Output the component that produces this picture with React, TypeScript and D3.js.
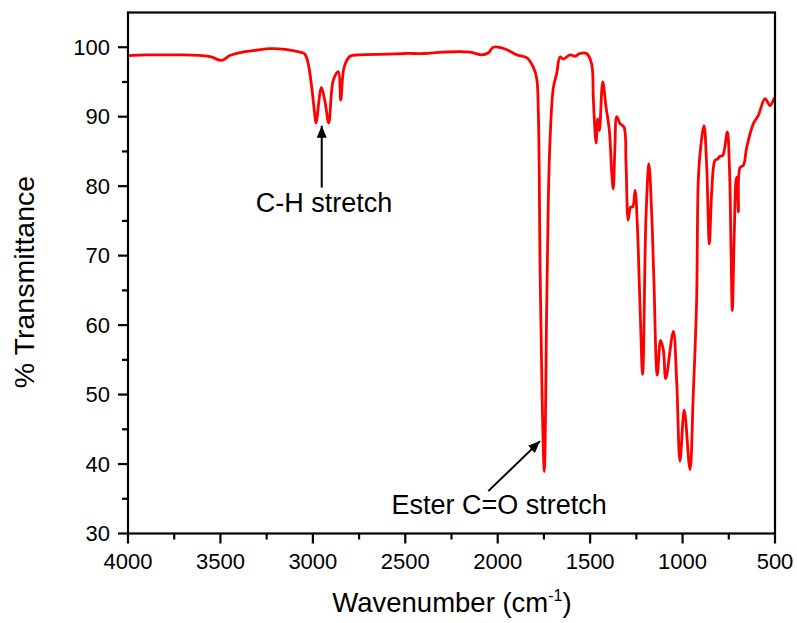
import React from "react";
import * as d3 from "d3";

const wavenumber = [
  4000, 3900, 3800, 3700, 3600, 3550, 3493, 3450, 3400, 3300, 3232, 3150, 3070, 3043, 3025, 3006, 2992,
  2983, 2954, 2934, 2914, 2890, 2862, 2849, 2831, 2799, 2750, 2600, 2500, 2400, 2294, 2150, 2087, 2050,
  2024, 1979, 1940, 1897, 1843, 1807, 1789, 1780, 1771, 1760, 1748, 1735, 1726, 1717, 1699, 1681, 1663,
  1645, 1609, 1582, 1555, 1519, 1492, 1483, 1474, 1468, 1459, 1450, 1432, 1414, 1396, 1383, 1375, 1366,
  1356, 1338, 1317, 1306, 1294, 1281, 1270, 1257, 1245, 1230, 1216, 1198, 1182, 1167, 1155, 1137, 1119,
  1104, 1091, 1050, 1032, 1014, 991, 960, 942, 924, 915, 902, 884, 870, 855, 842, 825, 812, 798, 783, 758,
  747, 738, 731, 720, 711, 706, 698, 689, 671, 653, 617, 590, 554, 527, 505, 500,
];
const transmittance = [
  98.8, 98.9, 98.9, 98.9, 98.8, 98.6, 98.1, 98.8, 99.2, 99.6, 99.8, 99.7, 99.3, 99.0, 97.6, 94.2, 90.9,
  89.1, 94.2, 92.1, 89.1, 95.2, 96.5, 92.4, 97.1, 98.7, 98.9, 99.0, 99.1, 99.1, 99.3, 99.3, 98.9, 99.2,
  100.0, 99.9, 99.5, 98.9, 98.5, 97.1, 95.5, 90.4, 68.9, 50.0, 38.9, 62.6, 78.4, 86.6, 94.2, 96.2, 98.6,
  98.3, 98.9, 98.7, 99.1, 99.1, 97.6, 92.8, 88.0, 86.2, 89.7, 88.0, 95.0, 91.4, 88.0, 81.8, 79.6, 85.6,
  90.0, 89.0, 88.5, 83.2, 75.1, 77.0, 77.0, 79.4, 74.6, 62.6, 52.9, 75.5, 83.2, 76.0, 66.4, 52.8, 57.8,
  56.4, 52.3, 59.1, 52.0, 40.4, 47.8, 39.2, 50.1, 63.5, 80.8, 85.6, 88.7, 83.2, 71.7, 79.4, 83.7, 83.9,
  84.3, 84.4, 87.8, 83.2, 71.2, 62.1, 73.6, 80.8, 81.3, 76.3, 82.7, 83.0, 85.6, 89.0, 90.2, 92.6, 91.6,
  92.6, 92.8,
];

const xTicks = [4000, 3500, 3000, 2500, 2000, 1500, 1000, 500];
const xMinorTicks = [3750, 3250, 2750, 2250, 1750, 1250, 750];
const yTicks = [30, 40, 50, 60, 70, 80, 90, 100];
const yMinorTicks = [35, 45, 55, 65, 75, 85, 95];

const xDomain = [4000, 500];
const yDomain = [30, 105];

const annoLabels = ["C-H stretch", "Ester C=O stretch"];
const annoTextX = [2940, 1992];
const annoTextY = [76.3, 32.8];
const annoTail = [
  [2952, 79.8],
  [2051, 36.1],
];
const annoTip = [
  [2952, 88.7],
  [1771, 43.3],
];

const W = 797;
const H = 623;
const M = { left: 128, right: 22, top: 12.5, bottom: 89.5 };
const FONT = "'Liberation Sans', Arial, sans-serif";

export default function App() {
  const x = d3.scaleLinear().domain(xDomain).range([M.left, W - M.right]);
  const y = d3.scaleLinear().domain(yDomain).range([H - M.bottom, M.top]);
  const pts = wavenumber.map((w, i) => [w, transmittance[i]] as [number, number]);
  const line = d3
    .line<[number, number]>()
    .x((d) => x(d[0]))
    .y((d) => y(d[1]))
    .curve(d3.curveCatmullRom.alpha(0.5));
  const x0 = M.left;
  const x1 = W - M.right;
  const y0 = H - M.bottom;
  const y1 = M.top;

  return (
    <svg
      width={W}
      height={H}
      style={{ position: "absolute", left: 0, top: 0, background: "#fff" }}
      fontFamily={FONT}
    >
      <defs>
        <marker id="ah" viewBox="0 0 12 10" refX="12" refY="5" markerWidth="12" markerHeight="10" markerUnits="userSpaceOnUse" orient="auto">
          <path d="M0,0 L12,5 L0,10 z" fill="#000" />
        </marker>
        <clipPath id="clip">
          <rect x={x0} y={y1} width={x1 - x0} height={y0 - y1} />
        </clipPath>
      </defs>
      <path d={line(pts) || ""} fill="none" stroke="#ff0000" strokeWidth={2.8} strokeLinejoin="round" clipPath="url(#clip)" />
      <rect x={x0} y={y1} width={x1 - x0} height={y0 - y1} fill="none" stroke="#000" strokeWidth={2.2} />
      {xTicks.map((t) => (
        <g key={"xt" + t}>
          <line x1={x(t)} x2={x(t)} y1={y0} y2={y0 + 10} stroke="#000" strokeWidth={2.2} />
          <text x={x(t)} y={y0 + 35} textAnchor="middle" fontSize={22} fill="#000">
            {t}
          </text>
        </g>
      ))}
      {xMinorTicks.map((t) => (
        <line key={"xm" + t} x1={x(t)} x2={x(t)} y1={y0} y2={y0 + 6} stroke="#000" strokeWidth={2.2} />
      ))}
      {yTicks.map((t) => (
        <g key={"yt" + t}>
          <line x1={x0 - 10} x2={x0} y1={y(t)} y2={y(t)} stroke="#000" strokeWidth={2.2} />
          <text x={x0 - 18} y={y(t) + 7.5} textAnchor="end" fontSize={22} fill="#000">
            {t}
          </text>
        </g>
      ))}
      {yMinorTicks.map((t) => (
        <line key={"ym" + t} x1={x0 - 6} x2={x0} y1={y(t)} y2={y(t)} stroke="#000" strokeWidth={2.2} />
      ))}
      <text x={452} y={612} textAnchor="middle" fontSize={27.5} fill="#000">
        Wavenumber (cm
        <tspan fontSize={16} dy={-11}>-1</tspan>
        <tspan dy={11}>)</tspan>
      </text>
      <text transform="translate(34,282) rotate(-90)" textAnchor="middle" fontSize={28.5} fill="#000">
        % Transmittance
      </text>
      {annoLabels.map((lab, i) => (
        <g key={lab}>
          <line
            x1={x(annoTail[i][0])}
            y1={y(annoTail[i][1])}
            x2={x(annoTip[i][0])}
            y2={y(annoTip[i][1])}
            stroke="#000"
            strokeWidth={2}
            markerEnd="url(#ah)"
          />
          <text x={x(annoTextX[i])} y={y(annoTextY[i])} textAnchor="middle" fontSize={27} fill="#000">
            {lab}
          </text>
        </g>
      ))}
    </svg>
  );
}
